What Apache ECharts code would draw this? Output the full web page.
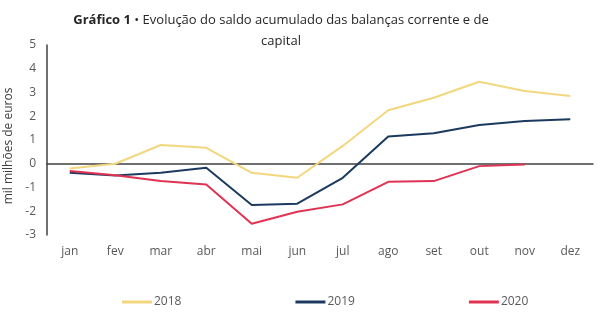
<!DOCTYPE html>
<html><head><meta charset="utf-8">
<script src="https://cdn.jsdelivr.net/npm/echarts@6/dist/echarts.min.js"></script>
<style>html,body{margin:0;padding:0;background:#fff}#c{width:605px;height:328px}</style>
</head><body><div id="c"></div>
<script>
const categories = ['jan','fev','mar','abr','mai','jun','jul','ago','set','out','nov','dez'];
const s2018 = [-0.2, 0.0, 0.79, 0.67, -0.38, -0.59, 0.75, 2.25, 2.78, 3.45, 3.06, 2.85];
const s2019 = [-0.38, -0.49, -0.38, -0.17, -1.74, -1.68, -0.59, 1.15, 1.28, 1.63, 1.8, 1.87];
const s2020 = [-0.31, -0.48, -0.73, -0.87, -2.53, -2.02, -1.71, -0.76, -0.73, -0.1, -0.03, null];
const yTicks = [-3, -2, -1, 0, 1, 2, 3, 4, 5];
const seriesNames = ['2018', '2019', '2020'];
const colors = ['#F2D77E', '#1C3A5E', '#E03253'];

const chart = echarts.init(document.getElementById('c'), null, {renderer: 'canvas'});
const font = 'Open Sans';
chart.setOption({
  animation: false,
  textStyle: {fontFamily: font},
  title: {
    text: '{b|Gráfico 1} • Evolução do saldo acumulado das balanças corrente e de\ncapital',
    left: 276, top: 5, textAlign: 'center',
    textStyle: {fontFamily: font, fontSize: 13, fontWeight: 'normal', color: '#262626', lineHeight: 21,
      rich: {b: {fontFamily: font, fontSize: 13, fontWeight: 'bold', color: '#262626'}}}
  },
  grid: {left: 47, right: 12, top: 45, bottom: 93, outerBoundsMode: 'none', containLabel: false},
  legend: {
    bottom: 20, left: 122, padding: 0, itemWidth: 30, itemHeight: 3, itemGap: 114,
    icon: 'rect',
    textStyle: {fontFamily: font, fontSize: 12, color: '#595959', padding: [0,0,0,-3]},
    data: seriesNames
  },
  xAxis: {
    type: 'category', data: categories, boundaryGap: true,
    axisLine: {onZero: true, lineStyle: {color: '#404040', width: 1.5}},
    axisTick: {show: false},
    axisLabel: {color: '#595959', fontSize: 12, margin: 11, interval: 0},
    position: 'bottom'
  },
  yAxis: {
    type: 'value', min: -3, max: 5, interval: 1,
    name: 'mil milhões de euros', nameLocation: 'middle', nameGap: 24, nameRotate: 90,
    nameTextStyle: {fontFamily: font, fontSize: 12, color: '#404040', padding: [0, 0, 0, -12]},
    axisLine: {show: true, lineStyle: {color: '#404040', width: 1.5}},
    axisTick: {show: false},
    splitLine: {show: false},
    axisLabel: {color: '#595959', fontSize: 12, margin: 11,
      formatter: v => yTicks.includes(v) ? String(v) : ''}
  },
  series: [
    {name: seriesNames[0], type: 'line', data: s2018, color: colors[0], symbol: 'none', lineStyle: {width: 2}},
    {name: seriesNames[1], type: 'line', data: s2019, color: colors[1], symbol: 'none', lineStyle: {width: 2}},
    {name: seriesNames[2], type: 'line', data: s2020, color: colors[2], symbol: 'none', lineStyle: {width: 2}}
  ]
});
</script></body></html>
